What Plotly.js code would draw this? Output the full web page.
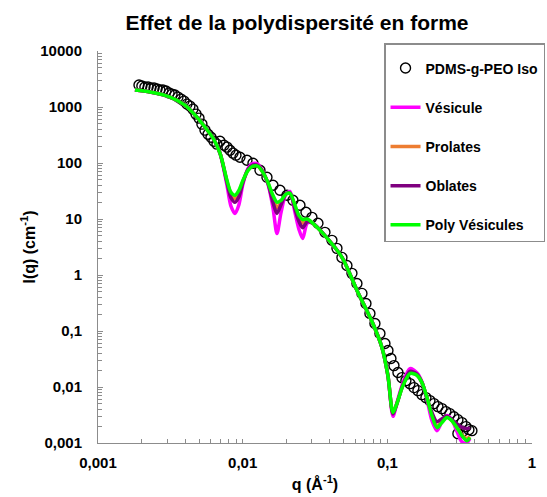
<!DOCTYPE html>
<html>
<head>
<meta charset="utf-8">
<script src="https://cdn.plot.ly/plotly-3.0.1.min.js"></script>
<style>html,body{margin:0;padding:0;background:#fff;}</style>
</head>
<body>
<div id="chart" style="width:547px;height:497px;"></div>
<script>
// Experimental data: PDMS-g-PEO Iso
const qData = [0.00192,0.00201,0.00211,0.00222,0.00232,0.00244,0.00256,0.00268,0.00281,0.00295,
  0.00310,0.00325,0.00340,0.00357,0.00375,0.00393,0.00412,0.00432,0.00453,0.00476,
  0.00499,0.00523,0.00549,0.00576,0.00604,0.00633,0.00664,0.00697,0.00743,0.00779,
  0.00817,0.00857,0.00899,0.00958,0.01071,0.01178,0.01317,0.01472,0.01620,0.01811,
  0.02024,0.02226,0.02489,0.02739,0.03012,0.03314,0.03705,0.04141,0.04484,0.04856,
  0.05257,0.05693,0.06164,0.06676,0.07115,0.07581,0.08209,0.0889,0.09625,0.1010,
  0.1059,0.1111,0.1184,0.1262,0.1344,0.1433,0.1527,0.1627,0.1734,0.1848,
  0.1970,0.2099,0.2237,0.2384,0.2541,0.2707,0.2885,0.3075,0.3278,0.3493,
  0.3664,0.3075,0.333,0.3843];
const iData = [2465,2365,2270,2270,2178,2178,2090,2006,2006,1925,
  1773,1701,1633,1503,1385,1275,1127,1038,917,746,
  633,494,386,327,289,245,217,245,208,192,
  169,150,138,127,112,99,74,55.7,40.1,32.6,
  26.5,21.6,17.6,13.2,10.7,8.38,5.78,4.16,2.99,2.06,
  1.48,1.07,0.707,0.469,0.310,0.206,0.136,0.0902,0.0598,0.0448,
  0.0322,0.0241,0.0181,0.0147,0.0130,0.0115,0.00976,0.00862,0.00731,0.00646,
  0.00571,0.00505,0.00446,0.00411,0.00363,0.00334,0.00295,0.00261,0.00231,0.00196,
  0.00173,0.00147,0.00163,0.00166];

// Model curves
const qModel = [0.00180,0.00229,0.00315,0.00399,0.00483,0.00549,0.00623,0.00697,0.00779,0.00830,
  0.00885,0.00942,0.01004,0.0109,0.01178,0.01276,0.0138,0.01496,0.01619,0.01726,
  0.01841,0.0199,0.0212,0.0230,0.0245,0.0260,0.0280,0.0306,0.0359,0.0486,
  0.0617,0.0794,0.0918,0.1009,0.1094,0.1164,0.1283,0.1433,0.160,0.1734,
  0.188,0.2034,0.2203,0.2384,0.2582,0.2793,0.3029,0.328,0.355,0.372];
const iVesicule = [2005,1848,1503,1081,659,436,280,150,40,17,
  12.6,18,42,80,98,95,70,42,16,5.5,
  13,28,31,13,6.5,4.5,8.5,8.37,5.55,2.07,
  0.53,0.136,0.0507,0.016,0.003,0.0052,0.012,0.0213,0.018,0.0125,
  0.006,0.0025,0.00166,0.0024,0.0031,0.0026,0.0016,0.00105,0.00101,0.0012];
const iProlates = [2005,1848,1503,1081,659,436,280,150,47,28,
  23,30,47,75,89,88,68,44,23,16,
  20,27.7,28.8,16.5,10.5,8.5,9.5,8.37,5.55,2.07,
  0.53,0.136,0.0507,0.016,0.0034,0.0051,0.0108,0.018,0.0165,0.012,
  0.0064,0.0032,0.002,0.0024,0.0029,0.0025,0.0019,0.0014,0.0012,0.0013];
const iOblates = [2005,1848,1503,1081,659,436,280,150,45,24,
  19.9,25,45,77,92,90,69,43,20,12.6,
  18,28,29,15,9,7,9,8.37,5.55,2.07,
  0.53,0.136,0.0507,0.016,0.0033,0.005,0.011,0.019,0.017,0.012,
  0.0062,0.0035,0.0024,0.0027,0.003,0.0026,0.0022,0.0019,0.0018,0.0019];
const iPoly = [2005,1848,1503,1081,659,436,280,150,49,30,
  26.5,32.6,49,74,87.6,87.6,68,45,26.5,19.9,
  21.6,27.7,28.8,17.6,11.5,9.8,10,8.37,5.55,2.07,
  0.53,0.136,0.0507,0.016,0.0035,0.00505,0.0106,0.0174,0.0162,0.012,
  0.00646,0.00308,0.00188,0.00231,0.00284,0.0025,0.00188,0.00135,0.0011,0.00125];

const yTickVals = [0.001,0.01,0.1,1,10,100,1000,10000];
const yTickText = ['0,001','0,01','0,1','1','10','100','1000','10000'];
const xTickVals = [0.001,0.01,0.1,1];
const xTickText = ['0,001','0,01','0,1','1'];

function minorVals(decades) {
  const out = [];
  decades.slice(0, -1).forEach(d => { for (let k = 2; k <= 9; k++) out.push(d * k); });
  return out;
}

const FONT = 'Liberation Sans, Arial, sans-serif';
const lw = 3.5;
const AX = '#8c8c8c';

const traces = [
  {x: qData, y: iData, mode: 'markers', name: 'PDMS-g-PEO Iso', legendgroup: 'a',
   marker: {symbol: 'circle-open', size: 10, color: '#000', line: {width: 1.4, color: '#000'}}},
  {x: qModel, y: iVesicule, mode: 'lines', name: 'Vésicule', legendgroup: 'b',
   line: {color: '#ff00ff', width: lw, shape: 'spline', smoothing: 0.8}},
  {x: qModel, y: iProlates, mode: 'lines', name: 'Prolates', legendgroup: 'c',
   line: {color: '#ed7d31', width: lw, shape: 'spline', smoothing: 0.8}},
  {x: qModel, y: iOblates, mode: 'lines', name: 'Oblates', legendgroup: 'd',
   line: {color: '#7f007f', width: lw, shape: 'spline', smoothing: 0.8}},
  {x: qModel, y: iPoly, mode: 'lines', name: 'Poly Vésicules', legendgroup: 'e',
   line: {color: '#00ff00', width: lw, shape: 'spline', smoothing: 0.8}}
];

const layout = {
  width: 547, height: 497,
  margin: {l: 98, r: 15, t: 51, b: 54, autoexpand: false},
  paper_bgcolor: '#fff', plot_bgcolor: '#fff',
  font: {family: FONT, color: '#000'},
  title: {text: '<b>Effet de la polydispersité en forme</b>', font: {size: 21, family: FONT, color: '#000'},
          x: 0.4585, xref: 'paper', xanchor: 'center', y: 0.954, yref: 'container', yanchor: 'middle'},
  xaxis: {type: 'log', range: [-3, 0], tickvals: xTickVals, ticktext: xTickText,
          showgrid: false, zeroline: false, showline: true, linecolor: AX, linewidth: 1,
          ticks: 'inside', ticklen: 4, tickcolor: AX, tickwidth: 1, ticklabelstandoff: 6,
          minor: {ticks: 'inside', ticklen: 4, tickcolor: AX, tickvals: minorVals(xTickVals), showgrid: false},
          tickfont: {size: 15, family: FONT, weight: 'bold'},
          title: {text: '<b>q (Å<sup>-1</sup>)</b>', font: {size: 16, family: FONT}, standoff: 8}},
  yaxis: {type: 'log', range: [-3, 4], tickvals: yTickVals, ticktext: yTickText,
          showgrid: false, zeroline: false, showline: true, linecolor: AX, linewidth: 1,
          ticks: 'inside', ticklen: 5, tickcolor: AX, tickwidth: 1, ticklabelstandoff: 12,
          minor: {ticks: 'inside', ticklen: 4, tickcolor: AX, tickvals: minorVals(yTickVals), showgrid: false},
          tickfont: {size: 15, family: FONT, weight: 'bold'},
          title: {text: '<b>I(q) (cm<sup>-1</sup>)</b>', font: {size: 16, family: FONT}, standoff: 0}},
  showlegend: true,
  legend: {x: 1.03, xanchor: 'right', y: 1.02, yanchor: 'top', bgcolor: '#fff',
           bordercolor: AX, borderwidth: 1.5, traceorder: 'grouped', tracegroupgap: 18,
           title: {text: '\u00a0', font: {size: 6}},
           font: {size: 14, family: FONT, weight: 'bold', color: '#000'}, itemwidth: 30}
};

Plotly.newPlot('chart', traces, layout, {displayModeBar: false, staticPlot: true});
</script>
</body>
</html>
